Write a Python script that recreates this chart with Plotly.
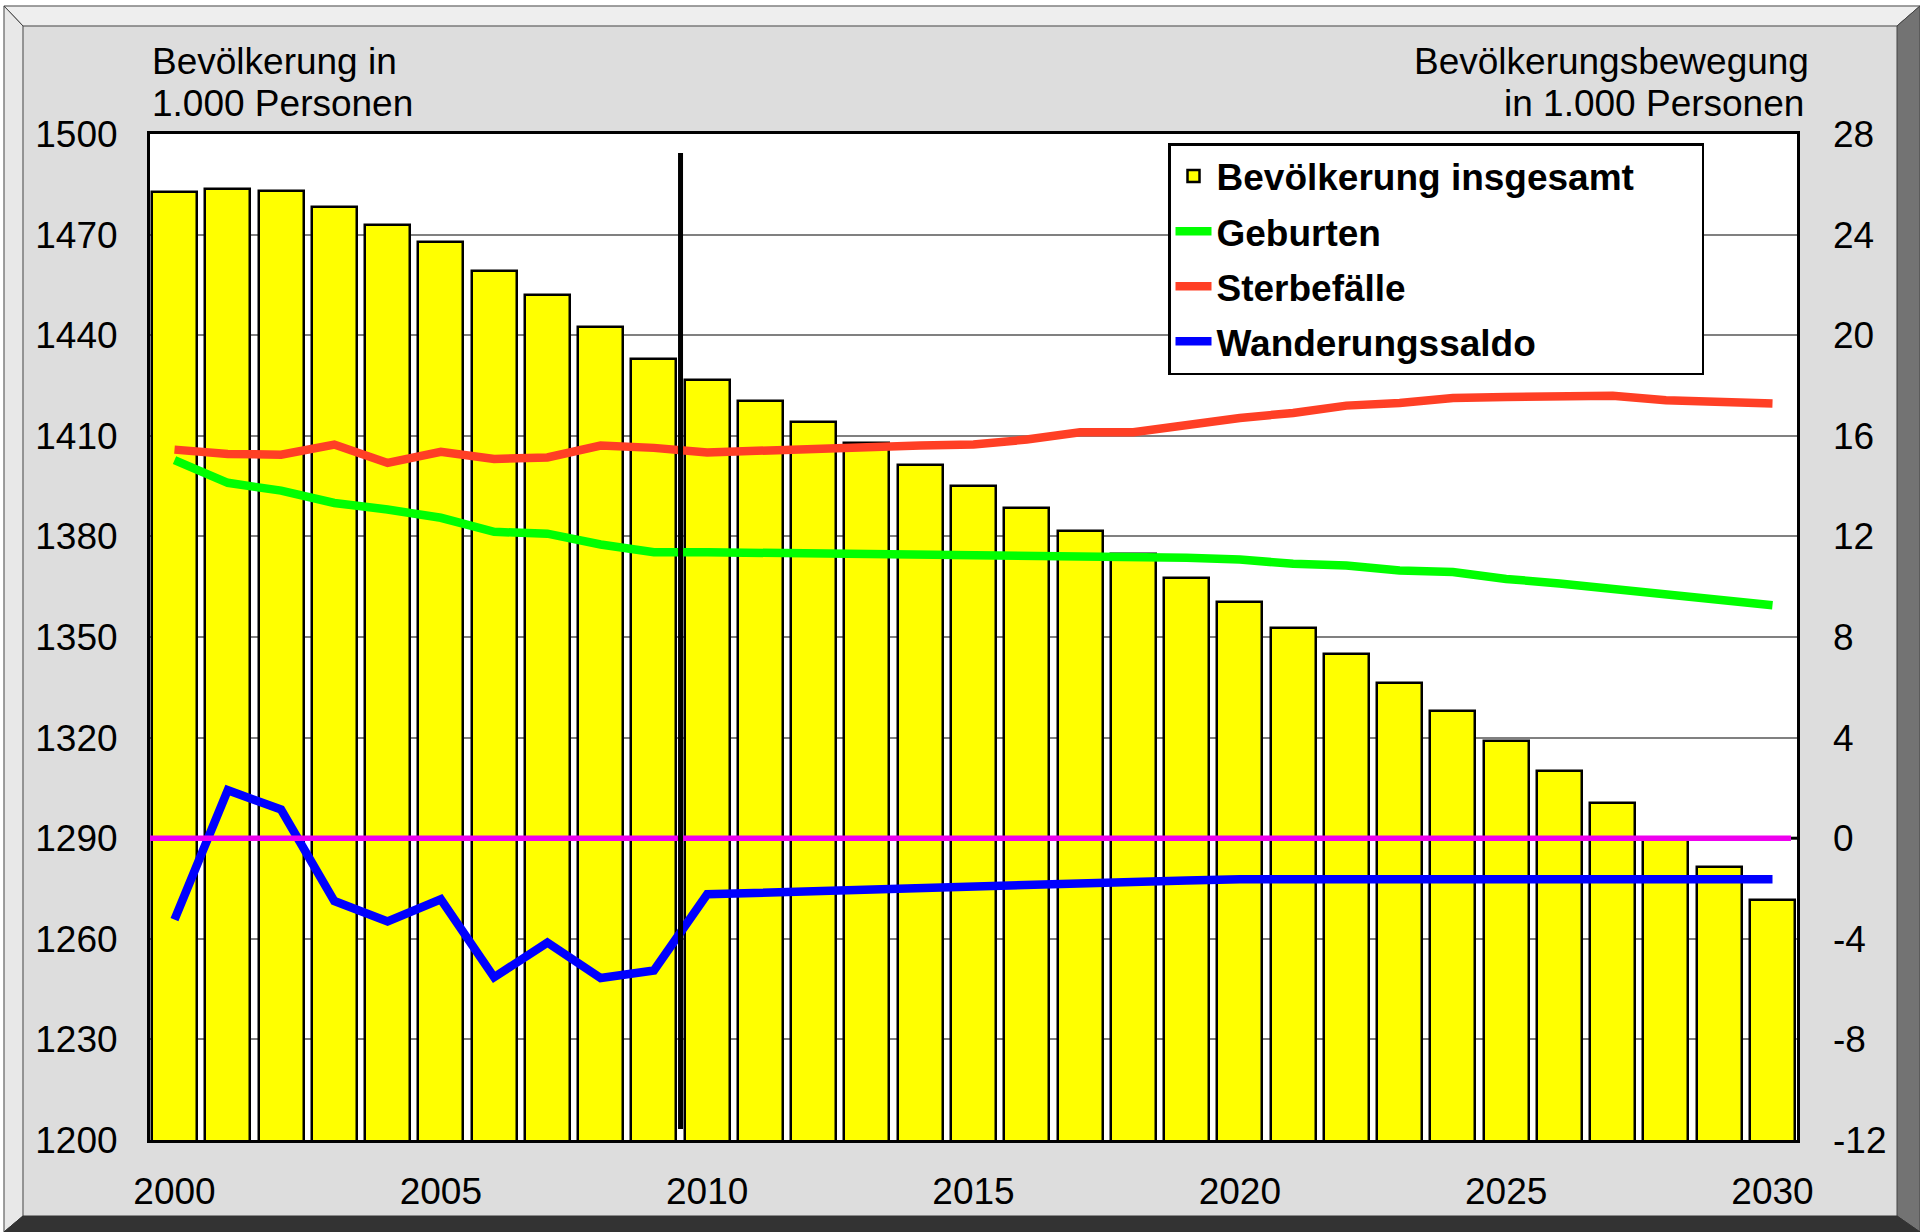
import plotly.graph_objects as go

years = list(range(2000, 2031))
bevoelkerung = [1482.8, 1483.5, 1483.1, 1478.2, 1472.8, 1467.7, 1459.2, 1452.0, 1442.4, 1432.9,
                1426.7, 1420.5, 1414.2, 1408.0, 1401.3, 1394.9, 1388.4, 1381.6, 1374.9, 1367.7,
                1360.5, 1352.8, 1344.8, 1336.4, 1327.8, 1318.9, 1309.9, 1300.4, 1289.6, 1281.5, 1271.6]
geburten = [15.03, 14.13, 13.82, 13.33, 13.07, 12.74, 12.18, 12.11, 11.68, 11.37,
            11.37, 11.35, 11.31, 11.25, 11.24, 11.27, 11.21, 11.21, 11.15, 11.15,
            11.08, 10.91, 10.84, 10.64, 10.58, 10.31, 10.13, 9.92, 9.76, 9.49, 9.26]
sterbefaelle = [15.45, 15.28, 15.25, 15.65, 14.92, 15.36, 15.08, 15.14, 15.61, 15.52,
                15.34, 15.38, 15.45, 15.54, 15.61, 15.65, 15.85, 16.14, 16.14, 16.44,
                16.71, 16.91, 17.20, 17.30, 17.50, 17.54, 17.57, 17.59, 17.41, 17.33, 17.28]
wanderung = [-3.24, 1.91, 1.14, -2.50, -3.31, -2.43, -5.53, -4.15, -5.56, -5.26,
             -2.23, -2.16, -2.10, -2.04, -1.97, -1.92, -1.86, -1.80, -1.74, -1.68,
             -1.63, -1.63, -1.63, -1.63, -1.63, -1.63, -1.63, -1.63, -1.63, -1.63, -1.63]
x_ticks = [2000, 2005, 2010, 2015, 2020, 2025, 2030]
y_left_ticks = [1200, 1230, 1260, 1290, 1320, 1350, 1380, 1410, 1440, 1470, 1500]
y_right_ticks = [-12, -8, -4, 0, 4, 8, 12, 16, 20, 24, 28]
y_right_labels = ["-12", "-8", "-4", "0", "4", "8", "12", "16", "20", "24", "28"]
forecast_start = 2009.5

W, H = 1920, 1232
ML, MR, MT, MB = 150, 123, 134, 92
PW, PH = W - ML - MR, H - MT - MB
FONT = "Arial, Liberation Sans, sans-serif"
FS = 37
LEGEND_PAD = "\u00a0" * 6  # widens the legend box to the reference's width


def px(x):
    return (x - ML) / PW


def py(y):
    return (H - MB - y) / PH


def poly(points):
    return "M " + " L ".join(f"{px(a):.5f},{py(b):.5f}" for a, b in points) + " Z"


fig = go.Figure()
fig.add_trace(go.Bar(
    x=years, y=bevoelkerung, name="Bevölkerung insgesamt" + LEGEND_PAD, width=0.845,
    marker=dict(color="#ffff00", line=dict(color="black", width=2.5)),
    legendgroup="a", yaxis="y"))
fig.add_trace(go.Scatter(
    x=years, y=geburten, name="Geburten", mode="lines", yaxis="y2",
    line=dict(color="#00ff00", width=8.5), legendgroup="b"))
fig.add_trace(go.Scatter(
    x=years, y=sterbefaelle, name="Sterbefälle", mode="lines", yaxis="y2",
    line=dict(color="#ff3f25", width=8.5), legendgroup="c"))
fig.add_trace(go.Scatter(
    x=years, y=wanderung, name="Wanderungssaldo", mode="lines", yaxis="y2",
    line=dict(color="#0000ff", width=8.5), legendgroup="d"))

shapes = []
# white outer slivers
shapes.append(dict(type="rect", xref="paper", yref="paper", x0=px(0), x1=px(W), y0=py(0), y1=py(6),
                   fillcolor="white", line=dict(width=0), layer="below"))
shapes.append(dict(type="rect", xref="paper", yref="paper", x0=px(0), x1=px(4), y0=py(0), y1=py(H),
                   fillcolor="white", line=dict(width=0), layer="below"))
# bevels
shapes.append(dict(type="path", xref="paper", yref="paper",
                   path=poly([(4, 6), (W, 6), (1897, 26), (23, 26)]),
                   fillcolor="#eeeeee", line=dict(color="#444444", width=1), layer="below"))
shapes.append(dict(type="path", xref="paper", yref="paper",
                   path=poly([(4, 6), (23, 26), (23, 1216), (4, H)]),
                   fillcolor="#e8e8e8", line=dict(color="#444444", width=1), layer="below"))
shapes.append(dict(type="path", xref="paper", yref="paper",
                   path=poly([(W, 6), (W, H), (1897, 1216), (1897, 26)]),
                   fillcolor="#737373", line=dict(color="#444444", width=1), layer="below"))
shapes.append(dict(type="path", xref="paper", yref="paper",
                   path=poly([(4, H), (W, H), (1897, 1216), (23, 1216)]),
                   fillcolor="#333333", line=dict(color="#333333", width=1), layer="below"))
# zero line of the right axis
shapes.append(dict(type="line", xref="paper", yref="y2", x0=0, x1=px(1791), y0=0, y1=0,
                   line=dict(color="#ee00ee", width=5.5), layer="above"))
shapes.append(dict(type="line", xref="paper", yref="y2", x0=px(1791), x1=1, y0=0, y1=0,
                   line=dict(color="black", width=3), layer="above"))
# forecast separator
shapes.append(dict(type="line", xref="x", yref="paper", x0=forecast_start, x1=forecast_start,
                   y0=py(153), y1=py(1129), line=dict(color="black", width=5), layer="above"))

annotations = [
    dict(text="Bevölkerung in", x=px(150), y=py(61), xanchor="left", yanchor="middle"),
    dict(text="1.000 Personen", x=px(150), y=py(104), xanchor="left", yanchor="middle"),
    dict(text="Bevölkerungsbewegung", x=px(1811), y=py(61), xanchor="right", yanchor="middle"),
    dict(text="in 1.000 Personen", x=px(1806), y=py(104), xanchor="right", yanchor="middle"),
]
for a in annotations:
    a.update(xref="paper", yref="paper", showarrow=False, font=dict(family=FONT, size=FS, color="black"))

fig.update_layout(
    width=W, height=H, autosize=False,
    margin=dict(l=ML, r=MR, t=MT, b=MB, pad=0),
    paper_bgcolor="#dddddd", plot_bgcolor="white",
    font=dict(family=FONT, size=FS, color="black"),
    bargap=0,
    shapes=shapes, annotations=annotations,
    showlegend=True,
    legend=dict(x=px(1168), y=py(143), xanchor="left", yanchor="top",
                bgcolor="white", bordercolor="black", borderwidth=2.5,
                font=dict(family=FONT, size=FS, color="black", weight="bold"),
                tracegroupgap=4, traceorder="grouped", itemwidth=36),
    xaxis=dict(range=[1999.54, 2030.46], tickvals=x_ticks, ticks="", showgrid=False,
               showline=True, linecolor="black", linewidth=3, mirror=True,
               tickfont=dict(family=FONT, size=FS, color="black"), ticklabelstandoff=17,
               zeroline=False),
    yaxis=dict(range=[1200, 1500], tickvals=y_left_ticks, ticks="", showgrid=True,
               gridcolor="#808080", gridwidth=1.5, showline=True, linecolor="black",
               linewidth=3, mirror=True, zeroline=False,
               tickfont=dict(family=FONT, size=FS, color="black"), ticklabelstandoff=22),
    yaxis2=dict(range=[-12, 28], tickvals=y_right_ticks, ticktext=y_right_labels,
                overlaying="y", side="right",
                ticks="", showgrid=False, showline=False, zeroline=False,
                tickfont=dict(family=FONT, size=FS, color="black"), ticklabelstandoff=35),
)

fig.write_html("out.html", config={"displayModeBar": False},
               post_script="document.body.style.margin='0';document.body.style.overflow='hidden';")
